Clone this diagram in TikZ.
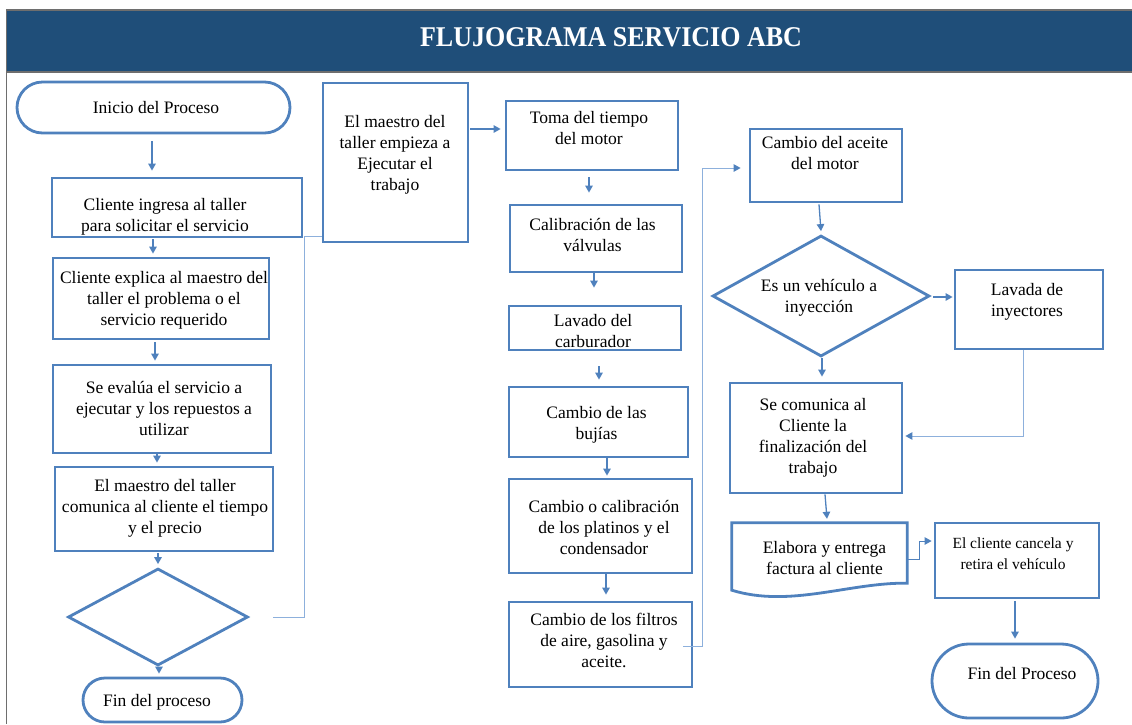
\documentclass[tikz,border=0pt]{standalone}
\usepackage{fontspec}
\setmainfont{Liberation Serif}
\usetikzlibrary{shapes.geometric,shapes.misc,arrows.meta,calc}
\definecolor{bandblue}{HTML}{1F4E79}
\definecolor{boxblue}{HTML}{4F81BD}
\definecolor{linkblue}{HTML}{8DB0DC}
\definecolor{framegray}{HTML}{6E6E6E}
\begin{document}
\begin{tikzpicture}[x=1pt,y=-1pt,
  box/.style={draw=boxblue, line width=2.8pt, fill=white, rectangle, inner sep=0pt},
  term/.style={box, rounded rectangle, rounded rectangle arc length=180},
  decision/.style={box, diamond},
  txt/.style={align=center, inner sep=0pt, text=black, font=\fontsize{17.5}{21}\selectfont},
  smalltxt/.style={txt, font=\fontsize{15.5}{21}\selectfont},
  arr/.style={draw=boxblue, line width=1.3pt, -{Triangle[length=7pt,width=7.5pt]}},
  thinarr/.style={draw=boxblue, line width=1pt, -{Triangle[length=7pt,width=7.5pt]}},
  link/.style={draw=linkblue, line width=1pt},
  linkarr/.style={link, -{Triangle[length=7pt,width=7.5pt,color=boxblue,fill=boxblue]}}]
\useasboundingbox (0,0) rectangle (1132,724);

% title band
\fill[bandblue] (6,10) rectangle (1132,72);
\draw[framegray, line width=1.6pt] (6,10) -- (1132,10);
\draw[framegray, line width=1.6pt] (6,72) -- (1132,72);
\draw[framegray, line width=1pt] (6,10) -- (6,724);
\node[text=white, inner sep=0pt, font=\bfseries\fontsize{26}{30}\selectfont, yscale=1.1] (title) at (611,37) {FLUJOGRAMA SERVICIO ABC};

% left column
\node[term, minimum width=273, minimum height=51] (start) at (153.5,107.5) {};
\node[txt] (start-t) at (156,108) {Inicio del Proceso};
\node[box, minimum width=250, minimum height=59] (c1) at (177,207.5) {};
\node[txt] (c1-t) at (165,216.5) {Cliente ingresa al taller\\para solicitar el servicio};
\node[box, minimum width=216, minimum height=81] (c2) at (161,298.5) {};
\node[txt] (c2-t) at (164,300.7) {Cliente explica al maestro del\\taller el problema o el\\servicio requerido};
\node[box, minimum width=218, minimum height=88] (c3) at (162,409) {};
\node[txt] (c3-t) at (164,408) {Se evalúa el servicio a\\ejecutar y los repuestos a\\utilizar};
\node[box, minimum width=218, minimum height=84] (c4) at (164,509) {};
\node[txt] (c4-t) at (165,508.3) {El maestro del taller\\comunica al cliente el tiempo\\y el precio};
\node[decision, minimum width=180, minimum height=97] (dia1) at (158,617) {};
\node[term, minimum width=159, minimum height=44] (fin1) at (162.5,700) {};
\node[txt] (fin1-t) at (157,702) {Fin del proceso};

% middle column
\node[box, minimum width=145, minimum height=159] (maestro) at (395.5,162.5) {};
\node[txt] (maestro-t) at (395,154.5) {El maestro del\\taller empieza a\\Ejecutar el\\trabajo};
\node[box, minimum width=172, minimum height=69] (toma) at (592,135.5) {};
\node[txt] (toma-t) at (589,128) {Toma del tiempo\\del motor};
\node[box, minimum width=172, minimum height=67] (cal) at (596,238.5) {};
\node[txt] (cal-t) at (592.5,234.5) {Calibración de las\\válvulas};
\node[box, minimum width=172, minimum height=44] (lav) at (595,328) {};
\node[txt] (lav-t) at (593,331.5) {Lavado del\\carburador};
\node[box, minimum width=179, minimum height=70] (buj) at (598.5,422) {};
\node[txt] (buj-t) at (596.5,425) {Cambio de las\\bujías};
\node[box, minimum width=183, minimum height=94] (plat) at (600.5,526) {};
\node[txt] (plat-t) at (604,527) {Cambio o calibración\\de los platinos y el\\condensador};
\node[box, minimum width=183, minimum height=85] (filt) at (600.5,644.5) {};
\node[txt] (filt-t) at (604,640) {Cambio de los filtros\\de aire, gasolina y\\aceite.};

% right column
\node[box, minimum width=152, minimum height=73] (aceite) at (826,165.5) {};
\node[txt] (aceite-t) at (825,153) {Cambio del aceite\\del motor};
\node[decision, minimum width=217, minimum height=121] (dia2) at (821,296) {};
\node[txt] (dia2-t) at (819,298) {Es un vehículo a\\inyección};
\node[box, minimum width=148, minimum height=79] (lavada) at (1029,309.5) {};
\node[txt] (lavada-t) at (1027,302) {Lavada de\\inyectores};
\node[box, minimum width=172, minimum height=110] (comunica) at (816,438) {};
\node[txt] (comunica-t) at (813,437.75) {Se comunica al\\Cliente la\\finalización del\\trabajo};
\node[inner sep=0pt, minimum width=175, minimum height=60] (doc) at (819.5,553) {};
\draw[box] (doc.north west) -- (doc.north east) -- (doc.south east)
  .. controls ($(doc.south east)+(-57,-1)$) and ($(doc.south east)+(-117,25)$) .. ($(doc.south west)+(0,7)$)
  -- cycle;
\node[txt] (doc-t) at (824.5,558) {Elabora y entrega\\factura al cliente};
\node[box, minimum width=164, minimum height=75] (cancela) at (1017,560.5) {};
\node[smalltxt] (cancela-t) at (1013,553.5) {El cliente cancela y\\retira el vehículo};
\node[term, minimum width=166, minimum height=74] (fin2) at (1015,681) {};
\node[txt] (fin2-t) at (1022,673) {Fin del Proceso};

% flow arrows, left column
\draw[arr] ($(start.south)+(-1.5,7)$) -- ($(c1.north)+(-25,-6)$);
\draw[arr] ($(c1.south)+(-24,1)$) -- ($(c2.north)+(-8,-3)$);
\draw[arr] ($(c2.south)+(-6,2)$) -- ($(c3.north)+(-7,-3)$);
\draw[arr] ($(c3.south)+(-5,0)$) -- ($(c4.north)+(-7,-3)$);
\draw[arr] ($(c4.south)+(-6,1)$) -- ($(dia1.north)+(0,-3)$);
\draw[arr] ($(dia1.south)+(1,0)$) -- ($(fin1.north)+(-3.5,-3)$);

% decision loops back to the workshop master
\draw[link] ($(dia1.east)+(24,0)$) -| ($(maestro.west)+(-17,73.5)$) -- ($(maestro.west)+(0,73.5)$);

% flow arrows, middle column
\draw[arr] ($(maestro.east)+(1,-33.5)$) -- ($(toma.west)+(-4,-6.5)$);
\draw[arr] ($(toma.south)+(-3,6)$) -- ($(cal.north)+(-7,-11)$);
\draw[arr] ($(cal.south)+(-2,0)$) -- ($(lav.north)+(-1,-17)$);
\draw[arr] ($(lav.south)+(4,15)$) -- ($(buj.north)+(0.5,-6)$);
\draw[arr] ($(buj.south)+(8.5,0)$) -- ($(plat.north)+(6.5,-2)$);
\draw[arr] ($(plat.south)+(5.5,0)$) -- ($(filt.north)+(5.5,-6)$);
\draw[linkarr] ($(filt.east)+(-10,1.5)$) -| ($(aceite.west)+(-46,2.5)$) -- ($(aceite.west)+(-8,2.5)$);

% flow arrows, right column
\draw[arr] ($(aceite.south)+(-7,1)$) -- ($(dia2.north)+(0,-3)$);
\draw[arr] ($(dia2.east)+(2,1)$) -- ($(lavada.west)+(-1,-12.5)$);
\draw[arr] ($(dia2.south)+(1,0)$) -- ($(comunica.north)+(6,-5)$);
\draw[linkarr] ($(lavada.south)+(-6,0)$) |- ($(comunica.east)+(2,-2)$);
\draw[arr] ($(comunica.south)+(9,0)$) -- ($(doc.north)+(7.5,-4)$);
\draw[thinarr] ($(doc.east)+(0,6)$) -| ($(cancela.west)+(-14,-19.5)$) -- ($(cancela.west)+(-2,-19.5)$);
\draw[arr] ($(cancela.south)+(-2,2)$) -- ($(fin2.north)+(0,-4)$);
\end{tikzpicture}
\end{document}
